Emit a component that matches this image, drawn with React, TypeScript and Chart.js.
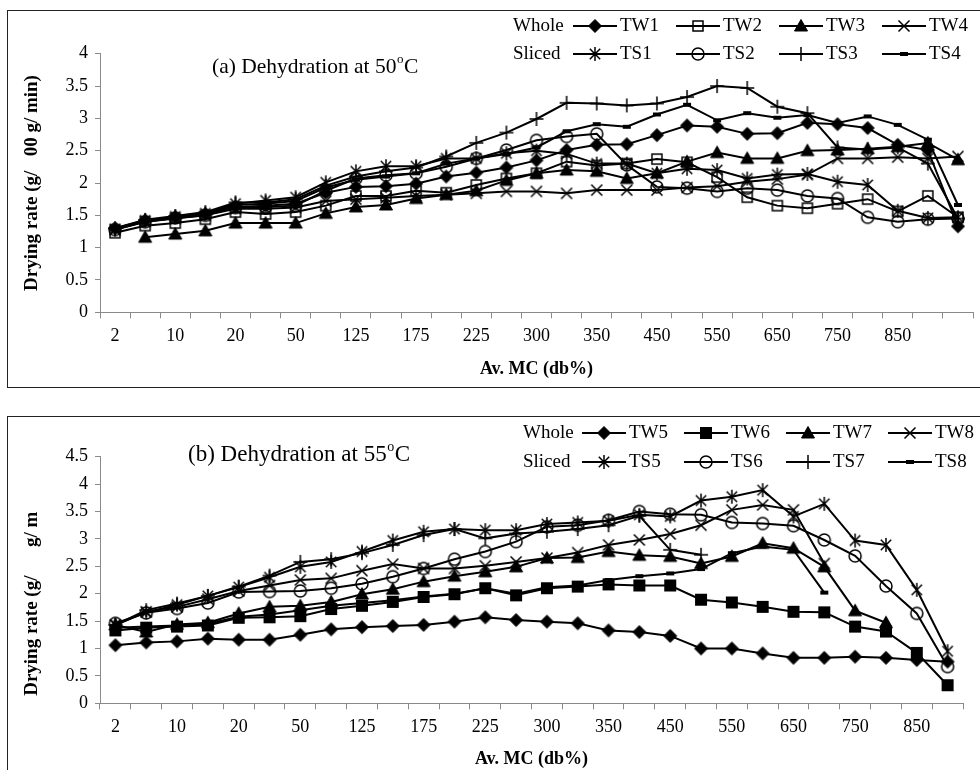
import React, { useEffect, useRef } from 'react';
import { Chart, registerables } from 'chart.js';

Chart.register(...registerables);

const FONT = '"Liberation Serif", "Times New Roman", Times, serif';
const AXIS_COLOR = '#8a8a8a';

// ---------------- data ----------------
const categoriesA = ['2', '5', '10', '15', '20', '30', '50', '100', '125', '150', '175', '200', '225', '250', '300', '325', '350', '400', '450', '500', '550', '600', '650', '700', '750', '800', '850', '900', '950'];
const categoriesB = ['2', '5', '10', '15', '20', '30', '50', '100', '125', '150', '175', '200', '225', '250', '300', '325', '350', '400', '450', '500', '550', '600', '650', '700', '750', '800', '850', '900'];
const shownTickLabels = ['2', '10', '20', '50', '125', '175', '225', '300', '350', '450', '550', '650', '750', '850'];

const yMaxA = 4;
const yMaxB = 4.5;
const yStep = 0.5;

// (a) 50 oC
const tw1 = [1.30, 1.42, 1.47, 1.52, 1.63, 1.65, 1.68, 1.85, 1.94, 1.95, 1.99, 2.10, 2.16, 2.24, 2.35, 2.51, 2.59, 2.60, 2.74, 2.89, 2.87, 2.76, 2.77, 2.93, 2.91, 2.85, 2.59, 2.51, 1.33];
const tw2 = [1.23, 1.34, 1.38, 1.44, 1.55, 1.52, 1.55, 1.65, 1.80, 1.80, 1.88, 1.85, 1.97, 2.07, 2.15, 2.33, 2.27, 2.30, 2.37, 2.32, 2.09, 1.78, 1.65, 1.61, 1.68, 1.75, 1.56, 1.80, 1.47];
const tw3 = [null, 1.16, 1.21, 1.26, 1.38, 1.38, 1.38, 1.53, 1.63, 1.66, 1.76, 1.82, 1.88, 2.04, 2.15, 2.20, 2.18, 2.07, 2.15, 2.33, 2.47, 2.38, 2.38, 2.50, 2.51, 2.53, 2.56, 2.62, 2.36];
const tw4 = [1.28, 1.40, 1.45, 1.50, 1.60, 1.60, 1.62, 1.72, 1.75, 1.77, 1.80, 1.82, 1.84, 1.87, 1.87, 1.84, 1.89, 1.89, 1.89, 1.93, 1.95, 2.02, 2.06, 2.13, 2.38, 2.38, 2.40, 2.38, 2.41];
const ts1 = [1.28, 1.42, 1.48, 1.53, 1.68, 1.73, 1.78, 2.01, 2.18, 2.26, 2.26, 2.38, 2.38, 2.46, 2.50, 2.45, 2.30, 2.30, 2.15, 2.22, 2.20, 2.07, 2.13, 2.14, 2.02, 1.97, 1.57, 1.46, 1.47];
const ts2 = [1.28, 1.40, 1.46, 1.50, 1.62, 1.63, 1.65, 1.88, 2.07, 2.12, 2.15, 2.25, 2.38, 2.51, 2.66, 2.72, 2.76, 2.28, 1.94, 1.92, 1.87, 1.92, 1.89, 1.80, 1.76, 1.47, 1.40, 1.44, 1.45];
const ts3 = [1.30, 1.43, 1.49, 1.55, 1.70, 1.70, 1.75, 1.96, 2.10, 2.18, 2.24, 2.41, 2.62, 2.78, 2.99, 3.24, 3.23, 3.20, 3.23, 3.33, 3.50, 3.47, 3.18, 3.08, 2.55, 2.52, 2.55, 2.30, 1.45];
const ts4 = [1.28, 1.41, 1.46, 1.52, 1.66, 1.68, 1.72, 1.93, 2.05, 2.10, 2.15, 2.30, 2.38, 2.45, 2.55, 2.80, 2.91, 2.87, 3.06, 3.21, 2.97, 3.08, 3.01, 3.05, 2.93, 3.03, 2.90, 2.67, 1.66];

// (b) 55 oC
const tw5 = [1.06, 1.11, 1.13, 1.18, 1.16, 1.16, 1.25, 1.35, 1.39, 1.41, 1.43, 1.49, 1.57, 1.52, 1.49, 1.46, 1.33, 1.30, 1.23, 1.00, 1.00, 0.91, 0.83, 0.83, 0.85, 0.83, 0.79, 0.76];
const tw6 = [1.33, 1.38, 1.40, 1.42, 1.56, 1.57, 1.59, 1.72, 1.78, 1.85, 1.94, 1.99, 2.10, 1.97, 2.10, 2.13, 2.17, 2.15, 2.15, 1.89, 1.84, 1.76, 1.67, 1.66, 1.40, 1.31, 0.92, 0.33];
const tw7 = [1.43, 1.30, 1.44, 1.47, 1.64, 1.76, 1.78, 1.85, 1.99, 2.08, 2.22, 2.32, 2.40, 2.49, 2.65, 2.66, 2.77, 2.70, 2.68, 2.55, 2.68, 2.92, 2.83, 2.49, 1.69, 1.47, null, null];
const tw8 = [1.43, 1.67, 1.76, 1.90, 2.05, 2.15, 2.25, 2.28, 2.42, 2.54, 2.46, 2.46, 2.51, 2.58, 2.65, 2.75, 2.89, 2.98, 3.09, 3.25, 3.53, 3.62, 3.53, 2.55, null, null, null, null];
const ts5 = [1.43, 1.66, 1.80, 1.96, 2.12, 2.30, 2.49, 2.58, 2.77, 2.97, 3.13, 3.18, 3.16, 3.16, 3.27, 3.30, 3.33, 3.44, 3.41, 3.70, 3.77, 3.89, 3.41, 3.64, 2.97, 2.89, 2.07, 0.95];
const ts6 = [1.46, 1.65, 1.73, 1.83, 2.03, 2.04, 2.05, 2.10, 2.18, 2.31, 2.46, 2.63, 2.77, 2.95, 3.22, 3.25, 3.34, 3.50, 3.45, 3.44, 3.30, 3.28, 3.24, 2.98, 2.69, 2.14, 1.64, 0.67];
const ts7 = [1.43, 1.70, 1.82, 1.96, 2.13, 2.33, 2.58, 2.63, 2.74, 2.89, 3.07, 3.18, 3.01, 3.10, 3.13, 3.18, 3.25, 3.42, 2.80, 2.71, null, null, null, null, null, null, null, null];
const ts8 = [1.38, 1.40, 1.42, 1.45, 1.58, 1.62, 1.70, 1.78, 1.83, 1.88, 1.95, 2.00, 2.10, 2.00, 2.12, 2.15, 2.25, 2.32, 2.37, 2.45, 2.74, 2.86, 2.80, 2.02, null, null, null, null];

// ---------------- markers ----------------
type MarkerKind = 'diamond' | 'squareOpen' | 'squareFilled' | 'triangle' | 'x' | 'asterisk' | 'circle' | 'plus' | 'dash';

function makeMarker(kind: MarkerKind): HTMLCanvasElement {
  const S = 22;
  const c = S / 2;
  const cv = document.createElement('canvas');
  cv.width = S;
  cv.height = S;
  const g = cv.getContext('2d') as CanvasRenderingContext2D;
  g.strokeStyle = '#000';
  g.fillStyle = '#000';
  g.lineWidth = 1.5;
  g.beginPath();
  switch (kind) {
    case 'diamond': {
      const r = 6.5;
      g.moveTo(c, c - r); g.lineTo(c + r, c); g.lineTo(c, c + r); g.lineTo(c - r, c); g.closePath();
      g.fill(); g.lineWidth = 1; g.stroke();
      break;
    }
    case 'squareOpen': {
      g.rect(c - 5, c - 5, 10, 10); g.stroke();
      break;
    }
    case 'squareFilled': {
      g.rect(c - 6, c - 6, 12, 12); g.fill();
      break;
    }
    case 'triangle': {
      g.moveTo(c, c - 6.5); g.lineTo(c + 6.5, c + 5); g.lineTo(c - 6.5, c + 5); g.closePath();
      g.fill(); g.lineWidth = 1; g.stroke();
      break;
    }
    case 'x': {
      const d = 5.5;
      g.moveTo(c - d, c - d); g.lineTo(c + d, c + d); g.moveTo(c + d, c - d); g.lineTo(c - d, c + d); g.stroke();
      break;
    }
    case 'asterisk': {
      const d = 5.2;
      g.moveTo(c - d, c - d); g.lineTo(c + d, c + d); g.moveTo(c + d, c - d); g.lineTo(c - d, c + d);
      g.moveTo(c, c - 7); g.lineTo(c, c + 7); g.stroke();
      break;
    }
    case 'circle': {
      g.arc(c, c, 6, 0, Math.PI * 2); g.stroke();
      break;
    }
    case 'plus': {
      g.moveTo(c - 7, c); g.lineTo(c + 7, c); g.moveTo(c, c - 7); g.lineTo(c, c + 7); g.stroke();
      break;
    }
    case 'dash': {
      g.fillRect(c - 4, c - 2, 8, 4);
      break;
    }
  }
  return cv;
}

// ---------------- layout ----------------
const BOX_LEFT = 7;
const PLOT_LEFT = 100;
const LEGEND_SEG_LEN = 44;
const X_TITLE_FONT = 18;

interface SeriesDef { label: string; data: (number | null)[]; marker: MarkerKind; }

interface PanelSpec {
  boxTop: number;
  boxHeight: number;
  labels: string[];
  series: SeriesDef[];
  yMax: number;
  yTitle: string;
  titleText: string;
  titleX: number;
  titleY: number;
  titleFont: number;
  legendY: [number, number];
  legendPrefixX: number;
  legendSegStart: number;
  legendPeriod: number;
  plotTop: number;
  plotBottom: number;
  plotRight: number;
  xTitleY: number;
}

const panelA: PanelSpec = {
  boxTop: 10,
  boxHeight: 378,
  labels: categoriesA,
  series: [
    { label: 'TW1', data: tw1, marker: 'diamond' },
    { label: 'TW2', data: tw2, marker: 'squareOpen' },
    { label: 'TW3', data: tw3, marker: 'triangle' },
    { label: 'TW4', data: tw4, marker: 'x' },
    { label: 'TS1', data: ts1, marker: 'asterisk' },
    { label: 'TS2', data: ts2, marker: 'circle' },
    { label: 'TS3', data: ts3, marker: 'plus' },
    { label: 'TS4', data: ts4, marker: 'dash' },
  ],
  yMax: yMaxA,
  yTitle: 'Drying rate (g/   00 g/ min)',
  titleText: '(a) Dehydration at 50',
  titleX: 212,
  titleY: 67,
  titleFont: 21.5,
  legendY: [26, 54],
  legendPrefixX: 513,
  legendSegStart: 573,
  legendPeriod: 103,
  plotTop: 53.7,
  plotBottom: 312.3,
  plotRight: 973,
  xTitleY: 369,
};

const panelB: PanelSpec = {
  boxTop: 416,
  boxHeight: 372,
  labels: categoriesB,
  series: [
    { label: 'TW5', data: tw5, marker: 'diamond' },
    { label: 'TW6', data: tw6, marker: 'squareFilled' },
    { label: 'TW7', data: tw7, marker: 'triangle' },
    { label: 'TW8', data: tw8, marker: 'x' },
    { label: 'TS5', data: ts5, marker: 'asterisk' },
    { label: 'TS6', data: ts6, marker: 'circle' },
    { label: 'TS7', data: ts7, marker: 'plus' },
    { label: 'TS8', data: ts8, marker: 'dash' },
  ],
  yMax: yMaxB,
  yTitle: 'Drying rate (g/      g/ m          ',
  titleText: '(b) Dehydration at 55',
  titleX: 188,
  titleY: 455,
  titleFont: 23,
  legendY: [433, 462],
  legendPrefixX: 523,
  legendSegStart: 582,
  legendPeriod: 102,
  plotTop: 456.7,
  plotBottom: 703.3,
  plotRight: 963,
  xTitleY: 759,
};

function Panel({ spec }: { spec: PanelSpec }) {
  const ref = useRef<HTMLCanvasElement | null>(null);
  const canvasLeft = BOX_LEFT + 1;
  const canvasTop = spec.boxTop + 1;
  const cw = 980 - canvasLeft;
  const ch = spec.boxHeight - 2;

  useEffect(() => {
    const canvas = ref.current;
    if (!canvas) return;
    const markers: Record<string, HTMLCanvasElement> = {};
    (['diamond', 'squareOpen', 'squareFilled', 'triangle', 'x', 'asterisk', 'circle', 'plus', 'dash'] as MarkerKind[]).forEach((k) => {
      markers[k] = makeMarker(k);
    });

    const yAxisWidth = PLOT_LEFT - canvasLeft;
    const xAxisHeight = ch - (spec.plotBottom - canvasTop);
    const padTop = spec.plotTop - canvasTop;
    const padRight = cw - (spec.plotRight - canvasLeft);
    const xTitlePadBottom = canvasTop + ch - spec.xTitleY - (X_TITLE_FONT * 1.2) / 2;

    const decor = {
      id: 'panelDecor',
      afterDraw(chart: any) {
        const ctx: CanvasRenderingContext2D = chart.ctx;
        ctx.save();
        ctx.fillStyle = '#000';
        ctx.textBaseline = 'middle';
        ctx.textAlign = 'left';
        // title with superscript o
        const tf = spec.titleFont;
        const tx = spec.titleX - canvasLeft;
        const ty = spec.titleY - canvasTop;
        ctx.font = `${tf}px ${FONT}`;
        ctx.fillText(spec.titleText, tx, ty);
        const w = ctx.measureText(spec.titleText).width;
        ctx.font = `${Math.round(tf * 0.62)}px ${FONT}`;
        ctx.fillText('o', tx + w + 0.5, ty - tf * 0.33);
        const ow = ctx.measureText('o').width;
        ctx.font = `${tf}px ${FONT}`;
        ctx.fillText('C', tx + w + ow + 1, ty);

        // legend
        ctx.font = `19px ${FONT}`;
        const rows = [
          { prefix: 'Whole', items: spec.series.slice(0, 4) },
          { prefix: 'Sliced', items: spec.series.slice(4, 8) },
        ];
        rows.forEach((row, r) => {
          const y = spec.legendY[r] - canvasTop;
          ctx.fillText(row.prefix, spec.legendPrefixX - canvasLeft, y);
          row.items.forEach((item, k) => {
            const sx = spec.legendSegStart + k * spec.legendPeriod - canvasLeft;
            ctx.beginPath();
            ctx.moveTo(sx, y);
            ctx.lineTo(sx + LEGEND_SEG_LEN, y);
            ctx.lineWidth = 2;
            ctx.strokeStyle = '#000';
            ctx.stroke();
            const img = markers[item.marker];
            ctx.drawImage(img, Math.round(sx + LEGEND_SEG_LEN / 2 - img.width / 2), Math.round(y - img.height / 2));
            ctx.fillText(item.label, sx + LEGEND_SEG_LEN + 3, y);
          });
        });
        ctx.restore();
      },
    };

    const labels = spec.labels;
    const chart = new Chart(canvas, {
      type: 'line',
      data: {
        labels,
        datasets: spec.series.map((s) => ({
          label: s.label,
          data: s.data,
          borderColor: '#000',
          borderWidth: 2,
          tension: 0,
          fill: false,
          spanGaps: false,
          pointStyle: markers[s.marker] as any,
          pointRadius: 6,
          pointHoverRadius: 6,
          pointBorderWidth: 0,
        })),
      },
      options: {
        animation: false,
        responsive: false,
        maintainAspectRatio: false,
        events: [],
        layout: { padding: { left: 0, top: padTop, right: padRight, bottom: 0 } },
        plugins: {
          legend: { display: false },
          tooltip: { enabled: false },
          title: { display: false },
        },
        scales: {
          x: {
            type: 'category',
            offset: true,
            grid: { offset: true, drawOnChartArea: false, drawTicks: true, tickLength: 6, color: AXIS_COLOR, lineWidth: 1 },
            border: { color: AXIS_COLOR, width: 1 },
            ticks: {
              autoSkip: false,
              maxRotation: 0,
              minRotation: 0,
              padding: 7,
              color: '#000',
              font: { family: FONT, size: 18 },
              callback: (_v: any, i: number) => (shownTickLabels.includes(labels[i]) ? labels[i] : ''),
            },
            title: {
              display: true,
              text: 'Av. MC (db%)',
              color: '#000',
              font: { family: FONT, size: X_TITLE_FONT, weight: 'bold' },
              padding: { top: 0, bottom: xTitlePadBottom },
            },
            afterFit: (s: any) => { s.height = xAxisHeight; },
          },
          y: {
            min: 0,
            max: spec.yMax,
            ticks: {
              stepSize: yStep,
              padding: 7,
              color: '#000',
              font: { family: FONT, size: 18 },
              callback: (v: any) => String(Math.round(Number(v) * 100) / 100),
            },
            grid: { drawOnChartArea: false, drawTicks: true, tickLength: 5, color: AXIS_COLOR, lineWidth: 1 },
            border: { color: AXIS_COLOR, width: 1 },
            title: {
              display: true,
              text: spec.yTitle,
              color: '#000',
              font: { family: FONT, size: 19, weight: 'bold' },
              padding: { top: 13, bottom: 0 },
            },
            afterFit: (s: any) => { s.width = yAxisWidth; },
          },
        },
      } as any,
      plugins: [decor],
    });
    return () => chart.destroy();
  }, [spec]);

  return (
    <div
      style={{
        position: 'absolute',
        left: BOX_LEFT,
        top: spec.boxTop,
        width: 1000,
        height: spec.boxHeight,
        border: '1px solid #222',
        boxSizing: 'border-box',
        background: '#fff',
      }}
    >
      <canvas ref={ref} width={cw} height={ch} style={{ display: 'block', width: cw, height: ch }} />
    </div>
  );
}

export default function App() {
  return (
    <div style={{ position: 'absolute', left: 0, top: 0, width: 980, height: 770, overflow: 'hidden', background: '#fff' }}>
      <Panel spec={panelA} />
      <Panel spec={panelB} />
    </div>
  );
}
